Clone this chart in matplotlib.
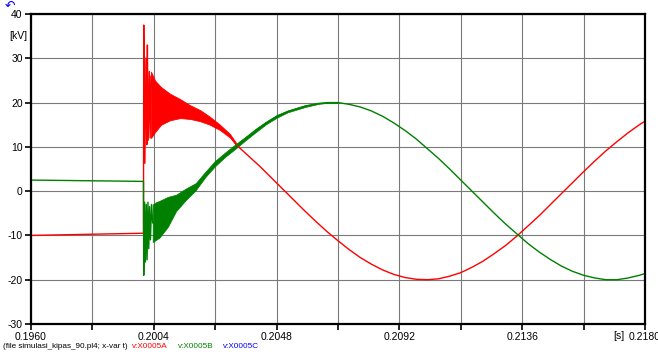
import matplotlib
matplotlib.use("Agg")
import matplotlib.pyplot as plt

plt.rcParams["font.family"] = ["Liberation Sans", "DejaVu Sans"]
plt.rcParams["axes.unicode_minus"] = False

# phase A voltage [kV] vs time [s]
red_t = [0.1960, 0.20003, 0.20004, 0.20008, 0.20012, 0.20015, 0.20017, 0.20020,
         0.20024, 0.20027, 0.20030, 0.20044, 0.20066, 0.20098, 0.20134, 0.20170,
         0.20206, 0.20241, 0.20277, 0.20313,
         0.2034, 0.2038, 0.2042, 0.2046, 0.2050, 0.2054, 0.2058, 0.2062, 0.2066,
         0.2070, 0.2074, 0.2078, 0.2082, 0.2086, 0.2090, 0.2094, 0.2098, 0.2102,
         0.2106, 0.2110, 0.2114, 0.2118, 0.2122, 0.2126, 0.2130, 0.2134, 0.2138,
         0.2142, 0.2146, 0.2150, 0.2154, 0.2158, 0.2162, 0.2166, 0.2170, 0.2174,
         0.2178, 0.2180]
red_v = [-10.0, -9.5, 37.5, 6.3, 30.0, 10.5, 33.0, 11.5,
         27.0, 12.0, 26.0, 19.2, 19.2, 19.0, 18.6, 17.8,
         17.0, 15.9, 14.4, 12.5,
         10.2, 7.9, 5.6, 3.1, 0.6, -1.9, -4.4, -6.8, -9.1,
         -11.2, -13.2, -15.0, -16.5, -17.8, -18.8, -19.5, -19.9, -20.0,
         -19.8, -19.2, -18.4, -17.2, -15.8, -14.1, -12.3, -10.2, -7.9,
         -5.6, -3.1, -0.6, 1.9, 4.4, 6.8, 9.1, 11.2, 13.2,
         15.0, 15.8]

# ripple band of phase A after switching
red_band_t = [0.20030, 0.20044, 0.20066, 0.20098, 0.20134, 0.20170, 0.20206,
              0.20241, 0.20277, 0.20313, 0.20340]
red_band_hi = [27.0, 25.0, 23.5, 22.0, 20.8, 19.4, 18.3, 16.8, 15.0, 12.9, 10.4]
red_band_lo = [12.0, 13.3, 15.0, 16.0, 16.5, 16.3, 15.8, 15.0, 13.8, 12.1, 10.0]

# phase B voltage [kV] vs time [s]
green_t = [0.1960, 0.20003, 0.20004, 0.20007, 0.20010, 0.20013, 0.20016, 0.20019,
           0.20022, 0.20025, 0.20028, 0.20032, 0.20036, 0.20048, 0.20060, 0.20090,
           0.20120, 0.20155, 0.20190, 0.20225, 0.20259, 0.20295, 0.20331, 0.20367,
           0.20403, 0.20442, 0.20481, 0.20520, 0.20582, 0.20630, 0.20664,
           0.2070, 0.2074, 0.2078, 0.2082, 0.2086, 0.2090, 0.2094, 0.2098, 0.2102,
           0.2106, 0.2110, 0.2114, 0.2118, 0.2122, 0.2126, 0.2130, 0.2134, 0.2138,
           0.2142, 0.2146, 0.2150, 0.2154, 0.2158, 0.2162, 0.2166, 0.2170, 0.2174,
           0.2178, 0.2180]
green_v = [2.5, 2.2, -19.0, -2.5, -16.0, -3.0, -15.5, -2.5,
           -13.0, -3.5, -11.0, -3.0, -7.2, -6.8, -6.3, -4.7,
           -2.6, -0.7, 1.0, 3.8, 6.2, 8.2, 10.0, 11.8,
           13.6, 15.4, 16.9, 18.0, 19.2, 19.8, 20.0,
           20.0, 19.6, 19.0, 18.1, 16.9, 15.4, 13.7, 11.8, 9.6,
           7.4, 5.0, 2.5, 0.0, -2.5, -5.0, -7.4, -9.6, -11.8,
           -13.7, -15.4, -16.9, -18.1, -19.0, -19.6, -20.0, -20.0, -19.6,
           -19.0, -18.6]

# ripple band of phase B after switching
green_band_t = [0.20036, 0.20048, 0.20060, 0.20090, 0.20120, 0.20155, 0.20190,
                0.20225, 0.20259, 0.20295, 0.20331, 0.20367, 0.20403, 0.20442,
                0.20481, 0.20520, 0.20582, 0.20630, 0.20664, 0.20700]
green_band_hi = [-3.0, -2.5, -2.2, -1.3, -0.8, 0.6, 1.8, 4.4, 6.8, 8.7, 10.5,
                 12.2, 14.0, 15.7, 17.2, 18.2, 19.4, 19.9, 20.05, 20.0]
green_band_lo = [-11.5, -11.0, -10.5, -8.1, -4.5, -2.0, 0.2, 3.2, 5.6, 7.7, 9.5,
                 11.4, 13.2, 15.1, 16.6, 17.8, 19.0, 19.7, 19.95, 20.0]

x_ticks = [0.1960, 0.1982, 0.2004, 0.2026, 0.2048, 0.2070, 0.2092, 0.2114,
           0.2136, 0.2158, 0.2180]
x_labels = ["0.1960", "", "0.2004", "", "0.2048", "", "0.2092", "", "0.2136", "", "0.2180"]
y_ticks = [-30, -20, -10, 0, 10, 20, 30, 40]

RED, GREEN, BLUE = "#ff0000", "#008000", "#0000ff"

fig = plt.figure(figsize=(6.58, 3.54), dpi=100)
ax = fig.add_axes([31 / 658, 1 - 324 / 354, 614 / 658, 310 / 354])

ax.fill_between(red_band_t, red_band_lo, red_band_hi, color=RED, lw=0.6)
ax.plot(red_t, red_v, color=RED, lw=1.0)
ax.fill_between(green_band_t, green_band_lo, green_band_hi, color=GREEN, lw=0.5)
ax.plot(green_t, green_v, color=GREEN, lw=1.0)

ax.set_xlim(0.1960, 0.2180)
ax.set_ylim(-30, 40)
ax.set_xticks(x_ticks)
ax.set_xticklabels(x_labels)
ax.set_yticks(y_ticks)
ax.grid(True, color="#7a7a7a", lw=0.8)
ax.set_axisbelow(True)
ax.tick_params(axis="both", direction="out", length=4, width=1.2, labelsize=7.5,
               pad=2, colors="black")
for s in ax.spines.values():
    s.set_linewidth(1.6)
    s.set_color("black")

# unit labels
ax.text(0.1960 - 0.00012, 35, "[kV]", ha="right", va="center", fontsize=7.5)
ax.text(0.21705, -32.6, "[s]", ha="center", va="center", fontsize=7.5, clip_on=False)

# file / curve captions
cap_y = 1 - 347 / 354
fig.text(3 / 658, cap_y, "(file simulasi_kipas_90.pl4; x-var t)",
         fontsize=5.9, va="center", ha="left")
fig.text(132 / 658, cap_y, "v:X0005A", color=RED, fontsize=5.9, va="center")
fig.text(178 / 658, cap_y, "v:X0005B", color=GREEN, fontsize=5.9, va="center")
fig.text(223 / 658, cap_y, "v:X0005C", color=BLUE, fontsize=5.9, va="center")
fig.text(10 / 658, 1 - 6 / 354, "\u21b6", color=BLUE, fontsize=9, ha="center",
         va="center", family="DejaVu Sans")

fig.savefig("out.png", dpi=100)
